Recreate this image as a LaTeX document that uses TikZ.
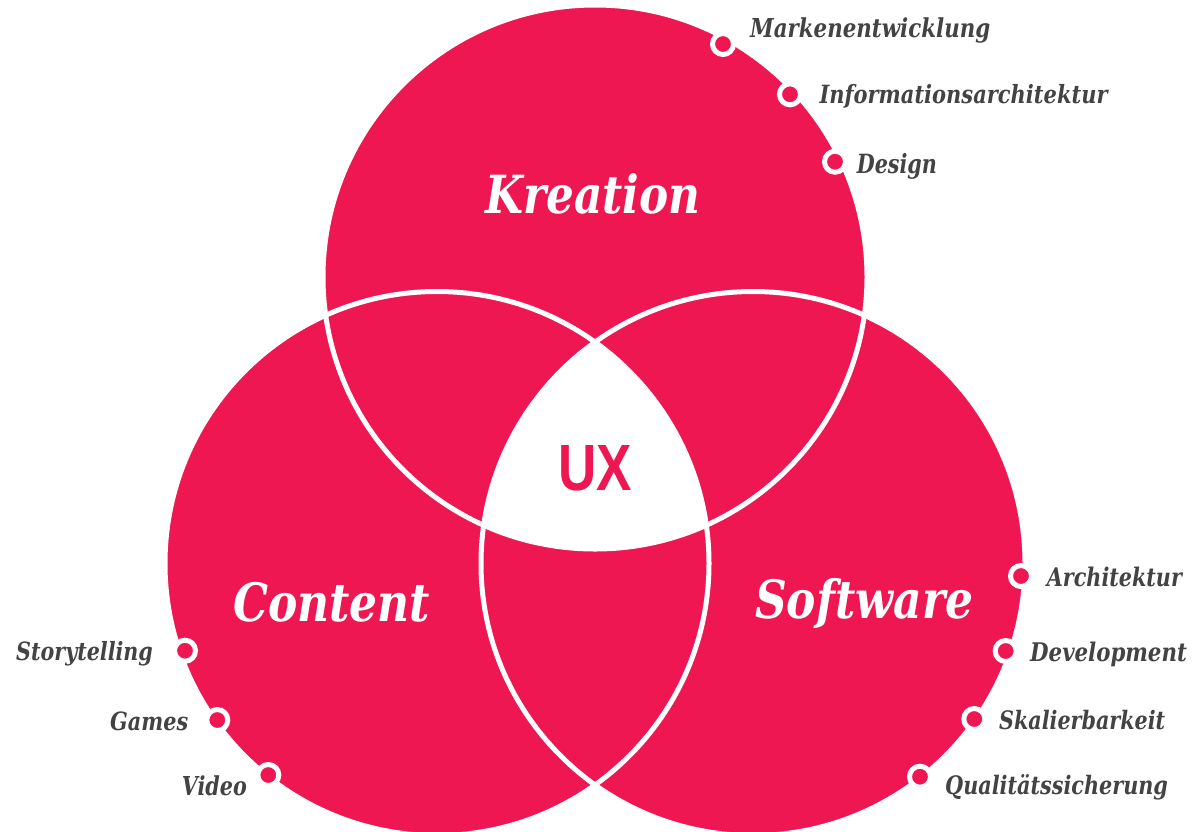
\documentclass[tikz,border=0pt]{standalone}
\usepackage{fontspec}
\usepackage{graphicx}
\newfontfamily\labfont{DejaVu Serif}
\newfontfamily\uxfont{Liberation Sans}
\definecolor{vred}{HTML}{EE1751}
\definecolor{vgray}{HTML}{434343}
\newcommand{\fitt}[3]{\resizebox{#1pt}{#2pt}{\smash{#3}\vphantom{H}}}
\tikzset{
  vennfill/.style={fill=vred},
  ring/.style={draw=white, line width=5pt},
  dotnode/.style={circle, fill=vred, draw=white, line width=5pt, minimum size=21pt, inner sep=0pt},
  lab/.style={text=vgray, inner sep=0pt, anchor=base west, font=\labfont\bfseries\itshape},
  biglab/.style={text=white, inner sep=0pt, anchor=base west, font=\labfont\bfseries\itshape},
  uxlab/.style={text=vred, inner sep=0pt, anchor=base west, font=\uxfont\bfseries},
}
\begin{document}
\begin{tikzpicture}[x=1pt,y=-1pt]
\path[use as bounding box] (0,0) rectangle (1194,831);
% circles
\fill[vennfill] (595,277) circle[radius=272pt];
\fill[vennfill] (437,563.5) circle[radius=272pt];
\fill[vennfill] (753,563.5) circle[radius=272pt];
% white centre
\begin{scope}
\clip (595,277) circle[radius=272pt];
\clip (437,563.5) circle[radius=272pt];
\fill[white] (753,563.5) circle[radius=272pt];
\end{scope}
% outlines
\draw[ring] (595,277) circle[radius=272pt];
\draw[ring] (437,563.5) circle[radius=272pt];
\draw[ring] (753,563.5) circle[radius=272pt];
% main labels
\node[biglab] (kreation) at (485,213.3) {\fitt{215}{38.3}{Kreation}};
\node[biglab] (content) at (233,621) {\fitt{197}{38.5}{Content}};
\node[biglab] (software) at (755,618.5) {\fitt{218}{38.5}{Software}};
\node[uxlab] (ux) at (558,490) {\fitt{73.7}{45}{UX}};
% dots
\node[dotnode] (d1) at (723,44) {};
\node[dotnode] (d2) at (790,94.3) {};
\node[dotnode] (d3) at (835,161.7) {};
\node[dotnode] (d4) at (185,650.7) {};
\node[dotnode] (d5) at (217.3,720) {};
\node[dotnode] (d6) at (268.3,775) {};
\node[dotnode] (d7) at (1021,576) {};
\node[dotnode] (d8) at (1005.7,651) {};
\node[dotnode] (d9) at (974.3,719) {};
\node[dotnode] (d10) at (920,776.7) {};
% item labels
\node[lab] (l1) at (750,37.3) {\fitt{240}{19}{Markenentwicklung}};
\node[lab] (l2) at (819.3,103.3) {\fitt{288}{18.3}{Informationsarchitektur}};
\node[lab] (l3) at (856.7,173.3) {\fitt{80}{19.3}{Design}};
\node[lab] (l4) at (16,660) {\fitt{136.7}{18.3}{Storytelling}};
\node[lab] (l5) at (110,730) {\fitt{78}{18.3}{Games}};
\node[lab] (l6) at (181.7,795) {\fitt{65}{19}{Video}};
\node[lab] (l7) at (1046.7,586.7) {\fitt{135}{18.7}{Architektur}};
\node[lab] (l8) at (1030,661.7) {\fitt{156.7}{18.7}{Development}};
\node[lab] (l9) at (999,729.5) {\fitt{166}{18.5}{Skalierbarkeit}};
\node[lab] (l10) at (945,794.5) {\fitt{222.7}{18.5}{Qualitätssicherung}};
\end{tikzpicture}
\end{document}
